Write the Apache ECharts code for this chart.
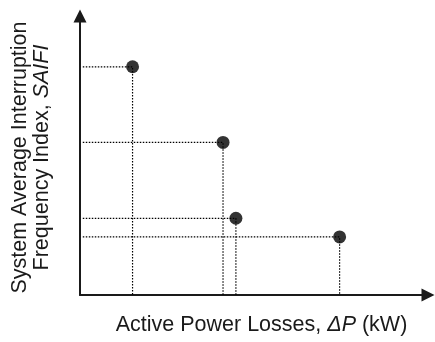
<!DOCTYPE html>
<html>
<head>
<meta charset="utf-8">
<script src="https://cdn.jsdelivr.net/npm/echarts@6/dist/echarts.min.js"></script>
<style>
html,body{margin:0;padding:0;background:#fff;}
#chart{width:435px;height:342px;}
</style>
</head>
<body>
<div id="chart"></div>
<script>
// Data (relative units, axes have no tick labels)
const activePowerLoss = [15.1, 41.1, 44.8, 74.6];
const saifi = [81.8, 54.7, 27.5, 20.8];
const xTitle = 'Active Power Losses, {i|ΔP} (kW)';
const yTitle = 'System Average Interruption\nFrequency Index, {i|SAIFI}';

const points = activePowerLoss.map((x, i) => [x, saifi[i]]);

const dropSeries = points.map((p) => ({
  type: 'line',
  data: [[0.8, p[1]], [p[0], p[1]], [p[0], 0]],
  symbol: 'none',
  silent: true,
  lineStyle: { color: '#000', width: 1.2, type: [1.5, 1.5] },
  z: 1
}));

const chart = echarts.init(document.getElementById('chart'), null, { renderer: 'canvas' });
const font = "'Liberation Sans', Arial, sans-serif";
chart.setOption({
  animation: false,
  backgroundColor: '#fff',
  grid: { left: 80, right: 7, top: 16, bottom: 43, containLabel: false },
  xAxis: {
    type: 'value', min: 0, max: 100,
    name: xTitle, nameLocation: 'middle', nameGap: 18,
    nameTextStyle: {
      fontFamily: font, fontSize: 21.5, color: '#1a1a1a', lineHeight: 24,
      padding: [0, 0, 0, 15],
      rich: { i: { fontFamily: font, fontSize: 21.5, fontStyle: 'italic', color: '#1a1a1a', lineHeight: 24 } }
    },
    axisLine: { show: true, onZero: false, symbol: ['none', 'triangle'], symbolSize: [13, 13],
      lineStyle: { color: '#1a1a1a', width: 2 } },
    axisTick: { show: false }, axisLabel: { show: false }, splitLine: { show: false }
  },
  yAxis: {
    type: 'value', min: 0, max: 100,
    name: yTitle, nameLocation: 'middle', nameGap: 27,
    nameTextStyle: {
      fontFamily: font, fontSize: 21.5, color: '#1a1a1a', lineHeight: 22, align: 'center',
      padding: [0, 4, 0, 0],
      rich: { i: { fontFamily: font, fontSize: 21.5, fontStyle: 'italic', color: '#1a1a1a', lineHeight: 22 } }
    },
    axisLine: { show: true, onZero: false, symbol: ['none', 'triangle'], symbolSize: [13, 13],
      lineStyle: { color: '#1a1a1a', width: 2 } },
    axisTick: { show: false }, axisLabel: { show: false }, splitLine: { show: false }
  },
  series: dropSeries.concat([{
    type: 'scatter',
    data: points,
    symbol: 'circle',
    symbolSize: 13,
    itemStyle: { color: '#000' },
    z: 5
  }])
});
</script>
</body>
</html>
